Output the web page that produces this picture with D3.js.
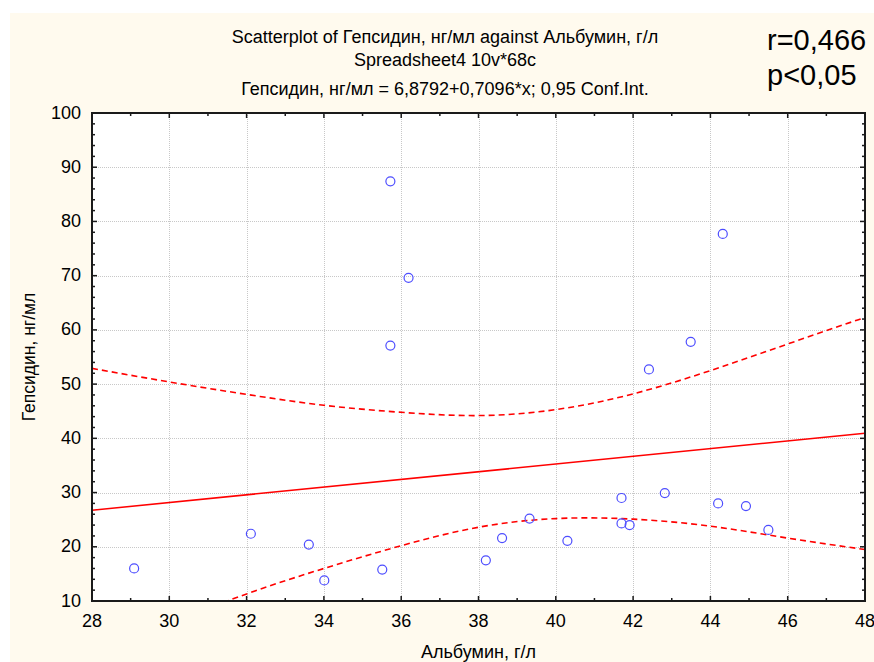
<!DOCTYPE html>
<html>
<head>
<meta charset="utf-8">
<script src="https://cdn.jsdelivr.net/npm/d3@7"></script>
<style>
  body { margin: 0; background: #fff; }
  svg { display: block; font-family: 'Liberation Sans', Arial, sans-serif; }
</style>
</head>
<body>
<div id="container"></div>
<script>
const w = 874
const h = 662
const margin = { top: 113, right: 9, bottom: 61, left: 92 }

// albumin (x), hepcidin (y)
const albumin = [29.09, 32.11, 33.61, 34.01, 35.51, 35.72, 35.72, 36.19, 38.19, 38.61, 39.32,
  40.30, 41.70, 41.70, 41.91, 42.41, 42.82, 43.49, 44.20, 44.32, 44.92, 45.50]
const hepcidin = [16.0, 22.4, 20.4, 13.8, 15.8, 87.4, 57.1, 69.6, 17.5, 21.6, 25.2,
  21.1, 29.0, 24.3, 24.0, 52.7, 29.9, 57.8, 28.0, 77.7, 27.5, 23.1]

// regression from the title
const intercept = 6.8792
const slope = 0.7096

// 0.95 conf. band, read at every even x
const bandX = [28, 30, 32, 34, 36, 38, 40, 42, 44, 46, 48]
const bandUpper = [52.9, 50.4, 48.1, 46.1, 44.8, 44.2, 45.3, 48.2, 52.5, 57.4, 62.3]
const bandLower = [0.6, 5.9, 11.3, 16.0, 20.2, 23.6, 25.2, 25.1, 23.8, 21.6, 19.5]

const xTicks = [28, 30, 32, 34, 36, 38, 40, 42, 44, 46, 48]
const yTicks = [10, 20, 30, 40, 50, 60, 70, 80, 90, 100]

const titleLines = [
  'Scatterplot of Гепсидин, нг/мл against Альбумин, г/л',
  'Spreadsheet4 10v*68c',
  'Гепсидин, нг/мл = 6,8792+0,7096*x; 0,95 Conf.Int.'
]

const svg = d3.select('#container').append('svg')
  .attr('width', w)
  .attr('height', h)

svg.append('rect')
  .attr('x', 10).attr('y', 13)
  .attr('width', w - 10).attr('height', h - 13)
  .attr('fill', '#fffaee')

const x = d3.scaleLinear().domain([28, 48]).range([margin.left, w - margin.right])
const y = d3.scaleLinear().domain([10, 100]).range([h - margin.bottom, margin.top])

svg.append('rect')
  .attr('x', x(28)).attr('y', y(100))
  .attr('width', x(48) - x(28)).attr('height', y(10) - y(100))
  .attr('fill', '#fff')

// grid
const grid = svg.append('g').attr('stroke', '#c8c8c8').attr('stroke-width', 1).attr('stroke-dasharray', '1,1')
grid.selectAll('.gx').data(xTicks.slice(1, -1)).enter().append('line')
  .attr('x1', d => Math.round(x(d)) + 0.5).attr('x2', d => Math.round(x(d)) + 0.5)
  .attr('y1', y(100)).attr('y2', y(10))
grid.selectAll('.gy').data(yTicks.slice(1, -1)).enter().append('line')
  .attr('y1', d => Math.round(y(d)) + 0.5).attr('y2', d => Math.round(y(d)) + 0.5)
  .attr('x1', x(28)).attr('x2', x(48))

// clip for the lines
svg.append('clipPath').attr('id', 'plot')
  .append('rect')
  .attr('x', x(28)).attr('y', y(100))
  .attr('width', x(48) - x(28)).attr('height', y(10) - y(100))

const lines = svg.append('g').attr('clip-path', 'url(#plot)')

lines.append('line')
  .attr('x1', x(28)).attr('y1', y(intercept + slope * 28))
  .attr('x2', x(48)).attr('y2', y(intercept + slope * 48))
  .attr('stroke', '#ff0000').attr('stroke-width', 1.6)

const band = d3.line().x(d => x(d[0])).y(d => y(d[1])).curve(d3.curveNatural)

lines.append('path')
  .attr('d', band(d3.zip(bandX, bandUpper)))
  .attr('fill', 'none').attr('stroke', '#ff0000').attr('stroke-width', 1.6)
  .attr('stroke-dasharray', '6,4')
lines.append('path')
  .attr('d', band(d3.zip(bandX, bandLower)))
  .attr('fill', 'none').attr('stroke', '#ff0000').attr('stroke-width', 1.6)
  .attr('stroke-dasharray', '6,4')

// points
svg.append('g').selectAll('circle')
  .data(d3.zip(albumin, hepcidin))
  .enter().append('circle')
  .attr('cx', d => x(d[0]))
  .attr('cy', d => y(d[1]))
  .attr('r', 4.5)
  .attr('fill', 'none')
  .attr('stroke', '#4d4dff')
  .attr('stroke-width', 1.2)

// frame + inward ticks on all four sides
const frame = svg.append('g').attr('stroke', '#1a1a1a')
const xMinor = d3.range(28, 48.01, 1)
const yMinor = d3.range(10, 100.01, 2)
frame.selectAll('.tb').data(xMinor).enter().append('line')
  .attr('x1', d => x(d)).attr('x2', d => x(d))
  .attr('y1', y(10)).attr('y2', d => y(10) - (d % 2 === 0 ? 5 : 3))
  .attr('stroke-width', 1.5)
frame.selectAll('.tt').data(xMinor).enter().append('line')
  .attr('x1', d => x(d)).attr('x2', d => x(d))
  .attr('y1', y(100)).attr('y2', d => y(100) + (d % 2 === 0 ? 5 : 3))
  .attr('stroke-width', 1.5)
frame.selectAll('.tl').data(yMinor).enter().append('line')
  .attr('y1', d => y(d)).attr('y2', d => y(d))
  .attr('x1', x(28)).attr('x2', d => x(28) + (d % 10 === 0 ? 5 : 3))
  .attr('stroke-width', 1.5)
frame.selectAll('.tr').data(yMinor).enter().append('line')
  .attr('y1', d => y(d)).attr('y2', d => y(d))
  .attr('x1', x(48)).attr('x2', d => x(48) - (d % 10 === 0 ? 5 : 3))
  .attr('stroke-width', 1.5)
frame.append('rect')
  .attr('x', x(28)).attr('y', y(100))
  .attr('width', x(48) - x(28)).attr('height', y(10) - y(100))
  .attr('fill', 'none').attr('stroke-width', 2)

// tick labels
svg.append('g').selectAll('text').data(xTicks).enter().append('text')
  .attr('x', d => x(d)).attr('y', 627)
  .attr('text-anchor', 'middle')
  .style('font-size', '18px')
  .text(d => d)
svg.append('g').selectAll('text').data(yTicks).enter().append('text')
  .attr('x', 81).attr('y', d => y(d) + 5.5)
  .attr('text-anchor', 'end')
  .style('font-size', '18px')
  .text(d => d)

// axis titles
svg.append('text')
  .attr('x', (x(28) + x(48)) / 2).attr('y', 658)
  .attr('text-anchor', 'middle')
  .style('font-size', '18px')
  .text('Альбумин, г/л')
svg.append('text')
  .attr('transform', 'translate(35,' + ((y(10) + y(100)) / 2) + ') rotate(-90)')
  .attr('text-anchor', 'middle')
  .style('font-size', '17.5px')
  .text('Гепсидин, нг/мл')

// title
svg.append('g').selectAll('text').data(titleLines).enter().append('text')
  .attr('x', 445)
  .attr('y', (d, i) => [43, 66, 95][i])
  .attr('text-anchor', 'middle')
  .style('font-size', '18px')
  .text(d => d)

svg.append('text').attr('x', 767).attr('y', 50).style('font-size', '29px').text('r=0,466')
svg.append('text').attr('x', 767).attr('y', 85).style('font-size', '29px').text('p<0,05')
</script>
</body>
</html>
